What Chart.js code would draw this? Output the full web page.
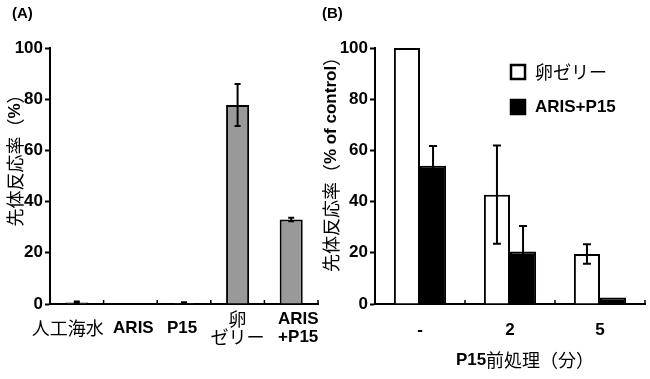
<!DOCTYPE html>
<html>
<head>
<meta charset="utf-8">
<script src="https://cdn.jsdelivr.net/npm/chart.js@4.4.0/dist/chart.umd.min.js"></script>
<style>
  html, body { margin: 0; padding: 0; background: #fff; }
  #wrap { position: relative; width: 650px; height: 379px; }
  #boxA { position: absolute; left: 0; top: 0; width: 330px; height: 379px; }
  #boxB { position: absolute; left: 310px; top: 0; width: 340px; height: 379px; }
</style>
</head>
<body>
<div id="wrap">
  <div id="boxA"><canvas id="chartA"></canvas></div>
  <div id="boxB"><canvas id="chartB"></canvas></div>
</div>
<script>
// ---- data (A) ----
const labelsA = [['人工海水'], ['ARIS'], ['P15'], ['卵', 'ゼリー'], ['ARIS', '+P15']];
const valuesA = [0.6, 0, 0.4, 77.7, 33];
const errorsA = [0.4, 0, 0.3, 8.2, 0.7];

// ---- data (B) ----
const labelsB = ['-', '2', '5'];
const jellyB = [100, 42.7, 19.5];
const jellyErrB = [0, 19.2, 3.8];
const arisB = [54, 20.5, 2.5];
const arisErrB = [7.7, 10, 0];

const yTicks = [0, 20, 40, 60, 80, 100];

const LATIN = "'Liberation Sans', Arial, sans-serif";
const CJK = "'Noto Sans CJK JP', sans-serif";

// latin runs bold, CJK runs regular
function runsOf(text) {
  const runs = [];
  for (const ch of text) {
    const cjk = /[\u3000-\u9fff\uff00-\uffef]/.test(ch);
    if (runs.length && runs[runs.length - 1].cjk === cjk) runs[runs.length - 1].t += ch;
    else runs.push({ t: ch, cjk });
  }
  return runs;
}
function fontFor(run, size) {
  return run.cjk ? `normal ${size + 1}px ${CJK}` : `bold ${size}px ${LATIN}`;
}
function drawMixed(ctx, text, x, y, size, align) {
  const runs = runsOf(text);
  let w = 0;
  runs.forEach(r => { ctx.font = fontFor(r, size); r.w = ctx.measureText(r.t).width; w += r.w; });
  let cx = align === 'left' ? x : x - w / 2;
  ctx.textBaseline = 'middle';
  ctx.textAlign = 'left';
  runs.forEach(r => { ctx.font = fontFor(r, size); ctx.fillText(r.t, cx, y); cx += r.w; });
}

// error bars, x labels, inner tick marks, panel letter, y title, legend
const decor = {
  id: 'decor',
  afterDatasetsDraw(chart, args, opts) {
    const ctx = chart.ctx;
    const x = chart.scales.x, y = chart.scales.y;
    const area = chart.chartArea;
    ctx.save();
    ctx.strokeStyle = '#000';
    ctx.fillStyle = '#000';
    ctx.lineWidth = 2;
    // error bars
    chart.data.datasets.forEach((ds, di) => {
      const meta = chart.getDatasetMeta(di);
      ds.errors.forEach((e, i) => {
        if (!e) return;
        const bx = meta.data[i].x;
        const t = y.getPixelForValue(ds.data[i] + e);
        const b = y.getPixelForValue(Math.max(ds.data[i] - e, 0));
        ctx.beginPath();
        ctx.moveTo(bx, t); ctx.lineTo(bx, b);
        ctx.moveTo(bx - opts.cap, t); ctx.lineTo(bx + opts.cap, t);
        ctx.moveTo(bx - opts.cap, b); ctx.lineTo(bx + opts.cap, b);
        ctx.stroke();
      });
    });
    // small inward ticks at category boundaries
    const n = x.ticks.length;
    ctx.lineWidth = 1.5;
    for (let i = 1; i <= n; i++) {
      const px = i < n ? (x.getPixelForTick(i - 1) + x.getPixelForTick(i)) / 2 : area.right;
      ctx.beginPath();
      ctx.moveTo(px, area.bottom); ctx.lineTo(px, area.bottom - 4);
      ctx.stroke();
    }
    // x labels
    chart.data.labels.forEach((lab, i) => {
      const lines = Array.isArray(lab) ? lab : [lab];
      const px = x.getPixelForTick(i) + (opts.shift ? opts.shift[i] : 0);
      lines.forEach((ln, k) => {
        drawMixed(ctx, ln, px, opts.labelY + (k - (lines.length - 1) / 2) * opts.lineGap, 17, 'center');
      });
    });
    // panel letter
    ctx.font = `bold 15px ${LATIN}`;
    ctx.textBaseline = 'middle';
    ctx.textAlign = 'left';
    ctx.fillText(opts.letter, opts.letterX, 14);
    // y title (rotated)
    ctx.save();
    ctx.translate(opts.yTitleX, (area.top + area.bottom) / 2 + opts.yTitleDy);
    ctx.rotate(-Math.PI / 2);
    drawMixed(ctx, opts.yTitle, 0, 0, 17, 'center');
    ctx.restore();
    // x title
    if (opts.xTitle) drawMixed(ctx, opts.xTitle, (area.left + area.right) / 2 + 15, 360, 17, 'center');
    // legend
    if (opts.legend) {
      chart.data.datasets.forEach((ds, di) => {
        const lx = area.left + 136, ly = area.top + 24 + di * 35;
        ctx.fillStyle = ds.backgroundColor;
        ctx.fillRect(lx, ly - 7, 14, 14);
        ctx.lineWidth = 2.5;
        ctx.strokeStyle = '#000';
        ctx.strokeRect(lx, ly - 7, 14, 14);
        ctx.fillStyle = '#000';
        drawMixed(ctx, ds.label, lx + 24, ly, 17, 'left');
      });
    }
    ctx.restore();
  }
};

function yScale(width) {
  return {
    min: 0, max: 100,
    afterBuildTicks: s => { s.ticks = yTicks.map(v => ({ value: v })); },
    afterFit: s => { s.width = width; },
    border: { display: true, color: '#000', width: 2 },
    grid: { drawOnChartArea: false, drawTicks: true, tickLength: 5, tickColor: '#000', tickWidth: 2 },
    ticks: { color: '#000', padding: 2, font: { family: LATIN, size: 17, weight: 'bold' } }
  };
}
function xScale() {
  return {
    afterFit: s => { s.height = 75; },
    border: { display: true, color: '#000', width: 2 },
    grid: { display: false },
    ticks: { display: false }
  };
}

new Chart(document.getElementById('chartA'), {
  type: 'bar',
  data: {
    labels: labelsA,
    datasets: [{
      label: 'A',
      data: valuesA,
      errors: errorsA,
      backgroundColor: '#999999',
      borderColor: '#000',
      borderWidth: 2,
      categoryPercentage: 1,
      barPercentage: 0.43
    }]
  },
  options: {
    responsive: true,
    maintainAspectRatio: false,
    animation: false,
    layout: { padding: { top: 48, right: 12, left: 0, bottom: 0 } },
    plugins: {
      legend: { display: false },
      tooltip: { enabled: false },
      decor: { cap: 3, labelY: 328, lineGap: 18, letter: '(A)', letterX: 12,
               shift: [-9, 3, -2, 0, 7],
               yTitle: '先体反応率（%）', yTitleX: 15, yTitleDy: -20 }
    },
    scales: { x: xScale(), y: yScale(50) }
  },
  plugins: [decor]
});

new Chart(document.getElementById('chartB'), {
  type: 'bar',
  data: {
    labels: labelsB,
    datasets: [
      { label: '卵ゼリー', data: jellyB, errors: jellyErrB, backgroundColor: '#ffffff',
        borderColor: '#000', borderWidth: 2, categoryPercentage: 0.58, barPercentage: 1 },
      { label: 'ARIS+P15', data: arisB, errors: arisErrB, backgroundColor: '#000000',
        borderColor: '#000', borderWidth: 2, categoryPercentage: 0.58, barPercentage: 1 }
    ]
  },
  options: {
    responsive: true,
    maintainAspectRatio: false,
    animation: false,
    layout: { padding: { top: 48, right: 5, left: 0, bottom: 0 } },
    plugins: {
      legend: { display: false },
      tooltip: { enabled: false },
      decor: { cap: 4, labelY: 330, lineGap: 18, letter: '(B)', letterX: 12,
               yTitle: '先体反応率（% of control）', yTitleX: 21, yTitleDy: -16,
               xTitle: 'P15前処理（分）', legend: true }
    },
    scales: { x: xScale(), y: yScale(65) }
  },
  plugins: [decor]
});
</script>
</body>
</html>
